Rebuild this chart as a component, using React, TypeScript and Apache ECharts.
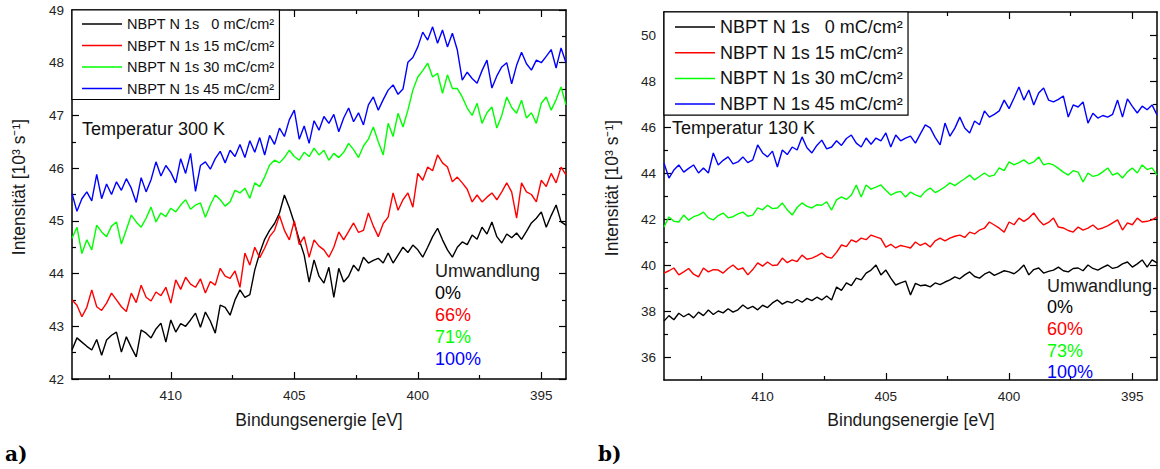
import React, { useEffect, useRef } from "react";
import * as echarts from "echarts";

// ---------- data ----------
const ENERGY_START = 414; // eV, first sample
const ENERGY_STEP = 0.2; // eV between samples (decreasing binding energy)
const energies: number[] = Array.from({ length: 101 }, (_, i) => Math.round((ENERGY_START - ENERGY_STEP * i) * 10) / 10);

const seriesNames = [
  "NBPT N 1s\u00A0\u00A0\u00A00 mC/cm²",
  "NBPT N 1s 15 mC/cm²",
  "NBPT N 1s 30 mC/cm²",
  "NBPT N 1s 45 mC/cm²",
];
const seriesColors = ["#000000", "#ff0000", "#00ff00", "#0000ff"];

// Panel a) 300 K
const t300_0 = [
  42.55, 42.78, 42.70, 42.62, 42.55, 42.75, 42.45, 42.74, 42.83, 42.89,
  42.51, 42.80, 42.60, 42.42, 42.93, 42.87, 42.78, 42.95, 43.06, 42.70,
  43.12, 42.89, 43.05, 43.00, 43.12, 43.25, 42.98, 43.27, 43.10, 42.87,
  43.40, 43.36, 43.21, 43.50, 43.69, 43.55, 43.60, 44.07, 44.39, 44.65,
  44.82, 44.95, 45.15, 45.49, 45.25, 44.96, 44.64, 44.35, 43.84, 44.26,
  43.95, 43.82, 44.12, 43.55, 44.10, 43.84, 43.95, 44.16, 44.05, 44.31,
  44.20, 44.25, 44.29, 44.20, 44.39, 44.20, 44.35, 44.50, 44.40, 44.54,
  44.45, 44.31, 44.50, 44.70, 44.86, 44.64, 44.45, 44.31, 44.50, 44.60,
  44.55, 44.73, 44.65, 44.88, 44.75, 44.98, 44.70, 44.58, 44.75, 44.68,
  44.77, 44.65, 44.80, 44.96, 45.05, 45.17, 44.88, 45.10, 45.30, 44.98,
  44.92,
];
const t300_15 = [
  43.50, 43.40, 43.18, 43.36, 43.69, 43.37, 43.30, 43.44, 43.63, 43.50,
  43.37, 43.28, 43.63, 43.45, 43.78, 43.55, 43.48, 43.65, 43.58, 43.74,
  43.44, 43.88, 43.70, 43.93, 43.80, 43.74, 43.90, 43.63, 43.85, 43.78,
  44.10, 43.95, 43.91, 44.05, 43.74, 44.39, 44.16, 44.50, 44.30, 44.48,
  44.70, 44.82, 45.10, 44.82, 44.64, 45.00, 44.55, 44.70, 44.31, 44.64,
  44.52, 44.45, 44.31, 44.50, 44.79, 44.64, 44.80, 44.96, 44.78, 44.82,
  45.15, 44.90, 44.70, 44.95, 45.07, 45.53, 45.20, 45.40, 45.53, 45.26,
  45.90, 45.77, 46.02, 45.95, 46.25, 46.10, 46.02, 45.74, 45.83, 45.72,
  45.60, 45.36, 45.49, 45.36, 45.45, 45.53, 45.40, 45.55, 45.72, 45.55,
  45.05, 45.72, 45.55, 45.50, 45.36, 45.77, 45.65, 45.90, 45.72, 46.02,
  45.87,
];
const t300_30 = [
  44.67, 44.88, 44.38, 44.64, 44.45, 44.92, 44.79, 44.70, 44.90, 44.98,
  44.56, 44.83, 45.11, 44.98, 44.88, 45.05, 45.26, 44.98, 45.15, 45.08,
  45.24, 45.17, 45.30, 45.40, 45.22, 45.30, 45.34, 45.07, 45.30, 45.49,
  45.40, 45.28, 45.36, 45.58, 45.53, 45.62, 45.43, 45.72, 45.65, 45.83,
  46.06, 46.15, 46.10, 46.20, 46.34, 46.22, 46.15, 46.30, 46.22, 46.38,
  46.25, 46.34, 46.15, 46.28, 46.20, 46.30, 46.47, 46.35, 46.20, 46.42,
  46.55, 46.78, 46.50, 46.25, 46.85, 46.60, 47.04, 46.78, 47.10, 47.48,
  47.73, 47.85, 47.99, 47.73, 47.80, 47.42, 47.77, 47.51, 47.51, 47.35,
  47.14, 47.00, 47.23, 46.85, 47.05, 47.16, 46.76, 47.00, 47.35, 47.15,
  47.04, 47.29, 46.95, 47.05, 46.85, 47.23, 47.35, 47.10, 47.30, 47.54,
  47.20,
];
const t300_45 = [
  45.52, 45.18, 45.42, 45.55, 45.38, 45.88, 45.42, 45.70, 45.50, 45.74,
  45.58, 45.80, 45.62, 45.35, 45.82, 45.55, 45.78, 46.12, 45.85, 46.05,
  45.92, 45.72, 46.18, 45.90, 46.28, 45.56, 46.05, 46.12, 45.98, 46.18,
  46.32, 46.10, 46.34, 46.22, 46.45, 46.20, 46.52, 46.30, 46.58, 46.25,
  46.62, 46.45, 46.76, 46.60, 46.92, 47.10, 46.55, 46.80, 46.47, 46.90,
  46.72, 46.98, 46.85, 47.02, 46.69, 46.95, 47.14, 46.88, 47.05, 46.82,
  47.20, 47.35, 47.10, 47.30, 47.48, 47.58, 47.40, 47.50, 48.01, 48.10,
  48.30, 48.58, 48.43, 48.68, 48.37, 48.62, 48.30, 48.56, 48.24, 47.67,
  47.82, 47.70, 47.61, 47.85, 48.05, 47.52, 47.75, 47.92, 48.00, 47.60,
  47.95, 48.20, 47.98, 47.86, 48.05, 48.00, 48.12, 48.25, 47.90, 48.28,
  48.00,
];

// Panel b) 130 K
const t130_0 = [
  37.56, 37.80, 37.62, 37.90, 37.75, 37.88, 37.70, 37.95, 37.80, 38.04,
  37.85, 38.00, 37.92, 38.10, 37.95, 38.05, 38.26, 38.10, 38.20, 38.05,
  38.25, 38.15, 38.35, 38.48, 38.30, 38.42, 38.35, 38.50, 38.38, 38.55,
  38.45, 38.60, 38.48, 38.65, 38.48, 39.04, 38.90, 39.22, 39.10, 39.43,
  39.35, 39.65, 39.78, 40.00, 39.57, 39.78, 39.43, 39.13, 39.22, 39.30,
  38.70, 39.20, 39.10, 39.13, 39.05, 39.22, 39.15, 39.26, 39.35, 39.48,
  39.40, 39.57, 39.70, 39.50, 39.43, 39.60, 39.70, 39.55, 39.65, 39.75,
  39.70, 39.62, 39.78, 40.00, 39.57, 39.80, 39.87, 39.65, 39.72, 39.78,
  39.91, 39.75, 39.70, 39.85, 39.87, 39.75, 40.00, 39.85, 39.78, 39.90,
  40.00, 39.85, 39.91, 40.05, 40.13, 39.91, 40.05, 40.22, 39.91, 40.22,
  40.09,
];
const t130_15 = [
  39.65, 39.75, 39.87, 39.57, 39.70, 39.85, 39.60, 39.48, 39.87, 39.70,
  39.80, 39.78, 39.65, 39.85, 40.00, 39.80, 39.87, 39.57, 39.80, 40.09,
  39.95, 40.13, 39.98, 40.00, 40.30, 40.10, 40.22, 40.15, 40.43, 40.25,
  40.30, 40.40, 40.52, 40.35, 40.30, 40.55, 40.87, 40.80, 41.09, 41.00,
  41.17, 41.10, 41.30, 41.22, 41.15, 40.78, 40.90, 40.74, 40.85, 40.80,
  40.74, 41.00, 40.85, 40.95, 40.78, 41.05, 41.17, 41.05, 41.17, 41.25,
  41.30, 41.20, 41.43, 41.35, 41.52, 41.60, 41.87, 41.74, 41.60, 41.43,
  41.87, 41.75, 42.04, 41.90, 42.04, 42.26, 41.96, 41.74, 41.85, 42.04,
  41.65, 41.61, 41.50, 41.43, 41.65, 41.52, 41.60, 41.74, 41.55, 41.61,
  41.70, 41.83, 41.96, 41.52, 41.83, 41.75, 42.04, 41.87, 41.90, 41.96,
  42.09,
];
const t130_30 = [
  41.65, 42.09, 41.90, 41.87, 42.17, 41.95, 42.10, 42.17, 42.30, 42.05,
  41.96, 42.15, 42.26, 42.05, 42.10, 42.22, 42.30, 42.12, 42.17, 42.48,
  42.40, 42.60, 42.45, 42.48, 42.70, 42.40, 42.17, 42.50, 42.70, 42.55,
  42.48, 42.62, 42.60, 42.75, 42.39, 42.83, 42.96, 42.85, 43.04, 43.48,
  42.96, 43.48, 43.30, 43.39, 43.48, 43.25, 43.04, 43.15, 43.20, 42.96,
  43.17, 43.05, 42.96, 43.20, 43.35, 43.15, 43.26, 43.40, 43.57, 43.45,
  43.61, 43.75, 43.91, 43.70, 43.85, 44.00, 43.85, 43.91, 44.22, 44.10,
  44.48, 44.35, 44.45, 44.57, 44.40, 44.48, 44.70, 44.35, 44.42, 44.35,
  44.20, 44.04, 43.91, 44.10, 44.04, 43.61, 44.00, 43.85, 43.91, 44.05,
  44.22, 43.91, 44.00, 43.78, 44.05, 44.22, 44.00, 44.35, 44.15, 44.22,
  43.91,
];
const t130_45 = [
  44.43, 43.78, 44.13, 44.35, 44.04, 44.20, 44.35, 44.00, 44.22, 44.00,
  44.87, 44.35, 44.55, 44.70, 44.40, 44.48, 44.70, 44.45, 44.57, 45.22,
  44.87, 44.70, 44.95, 44.26, 45.00, 44.80, 45.13, 45.00, 45.57, 45.10,
  44.87, 45.20, 45.43, 45.05, 45.13, 45.40, 45.20, 45.50, 45.65, 45.30,
  45.13, 45.52, 45.25, 45.52, 45.40, 45.74, 45.13, 45.65, 45.40, 45.52,
  45.60, 45.30, 45.70, 46.09, 45.96, 45.55, 45.22, 46.17, 45.60, 45.95,
  46.43, 45.96, 45.74, 46.26, 46.10, 46.70, 46.43, 46.55, 46.70, 47.17,
  46.80, 47.26, 47.74, 47.17, 47.61, 46.96, 47.48, 47.70, 47.17, 47.09,
  47.20, 47.35, 46.43, 46.96, 46.87, 47.09, 46.17, 46.60, 46.39, 46.50,
  46.43, 46.55, 47.17, 46.43, 47.22, 46.90, 46.61, 46.91, 46.75, 46.96,
  46.52,
];

const panelA = [t300_0, t300_15, t300_30, t300_45];
const panelB = [t130_0, t130_15, t130_30, t130_45];

const xMajorTicks = [395, 400, 405, 410];
const xMinorTicks = [397.5, 402.5, 407.5, 412.5];
const yMajorTicksB = [36, 38, 40, 42, 44, 46, 48, 50];
const yMinorTicksB = [37, 39, 41, 43, 45, 47, 49];

const conversionA = ["0%", "66%", "71%", "100%"];
const conversionB = ["0%", "60%", "73%", "100%"];
const conversionColors = ["#000000", "#ff0000", "#00ff00", "#0000ff"];

// ---------- styling ----------
const FONT = "'Liberation Sans', Arial, Helvetica, sans-serif";
const AX = { color: "#000", width: 1.5 };
const TK = { color: "#000", width: 1.2 };

function xAxesFor(gridIndex: number) {
  const base = { type: "value", gridIndex, min: 394, max: 414, inverse: true, splitLine: { show: false } };
  const line = { show: true, onZero: false, lineStyle: AX };
  return [
    {
      ...base, position: "bottom", axisLine: line,
      axisTick: { show: true, inside: true, length: 7, customValues: xMajorTicks, lineStyle: TK },
      axisLabel: { show: true, customValues: xMajorTicks, margin: 9, fontSize: 13.5, color: "#222", fontFamily: FONT },
    },
    {
      ...base, position: "bottom", axisLine: { show: false },
      axisTick: { show: true, inside: true, length: 4, customValues: xMinorTicks, lineStyle: TK },
      axisLabel: { show: false },
    },
    {
      ...base, position: "top", axisLine: line,
      axisTick: { show: true, inside: true, length: 7, customValues: xMajorTicks, lineStyle: TK },
      axisLabel: { show: false },
    },
    {
      ...base, position: "top", axisLine: { show: false },
      axisTick: { show: true, inside: true, length: 4, customValues: xMinorTicks, lineStyle: TK },
      axisLabel: { show: false },
    },
  ];
}

const yLabel = { margin: 8, fontSize: 13.5, color: "#222", fontFamily: FONT };

const yAxesA = [
  {
    type: "value", gridIndex: 0, position: "left", min: 42, max: 49, interval: 1,
    axisLine: { show: true, onZero: false, lineStyle: AX },
    axisTick: { show: true, inside: true, length: 7, lineStyle: TK },
    minorTick: { show: true, splitNumber: 2, length: 4, lineStyle: TK },
    axisLabel: { show: true, ...yLabel },
    splitLine: { show: false },
  },
  {
    type: "value", gridIndex: 0, position: "right", min: 42, max: 49, interval: 1,
    axisLine: { show: true, onZero: false, lineStyle: AX },
    axisTick: { show: true, inside: true, length: 7, lineStyle: TK },
    minorTick: { show: true, splitNumber: 2, length: 4, lineStyle: TK },
    axisLabel: { show: false },
    splitLine: { show: false },
  },
];

function yAxesB() {
  const base = { type: "value", gridIndex: 1, min: 35, max: 51, splitLine: { show: false } };
  return [
    {
      ...base, position: "left", axisLine: { show: true, onZero: false, lineStyle: AX },
      axisTick: { show: true, inside: true, length: 7, customValues: yMajorTicksB, lineStyle: TK },
      axisLabel: { show: true, customValues: yMajorTicksB, ...yLabel },
    },
    {
      ...base, position: "left", axisLine: { show: false },
      axisTick: { show: true, inside: true, length: 4, customValues: yMinorTicksB, lineStyle: TK },
      axisLabel: { show: false },
    },
    {
      ...base, position: "right", axisLine: { show: true, onZero: false, lineStyle: AX },
      axisTick: { show: true, inside: true, length: 7, customValues: yMajorTicksB, lineStyle: TK },
      axisLabel: { show: false },
    },
    {
      ...base, position: "right", axisLine: { show: false },
      axisTick: { show: true, inside: true, length: 4, customValues: yMinorTicksB, lineStyle: TK },
      axisLabel: { show: false },
    },
  ];
}

function makeSeries(panel: number[][], xAxisIndex: number, yAxisIndex: number) {
  return panel.map((vals, k) => ({
    type: "line",
    name: seriesNames[k],
    xAxisIndex,
    yAxisIndex,
    data: vals.map((v, i) => [energies[i], v]),
    showSymbol: false,
    symbol: "none",
    color: seriesColors[k],
    lineStyle: { color: seriesColors[k], width: 1.4 },
    clip: true,
    z: 2 + k,
  }));
}

function label(text: string, x: number, y: number, size: number, color = "#111", extra: any = {}) {
  return {
    type: "text", x, y, z: 100, ...extra,
    style: { text, fill: color, font: `${size}px ${FONT}`, textAlign: "left", textVerticalAlign: "middle", ...(extra.style || {}) },
  };
}

function conversionBlock(x: number, y0: number, dy: number, values: string[]) {
  const items: any[] = [label("Umwandlung", x, y0, 18, "#1a1a1a")];
  values.forEach((v, i) => items.push(label(v, x, y0 + dy * (i + 1), 18, conversionColors[i])));
  return items;
}

function rotatedName(text: string, x: number, y: number) {
  return {
    type: "text", x, y, z: 100, rotation: Math.PI / 2,
    style: { text, fill: "#1a1a1a", font: `17.5px ${FONT}`, textAlign: "center", textVerticalAlign: "middle" },
  };
}

function centeredName(text: string, x: number, y: number) {
  return {
    type: "text", x, y, z: 100,
    style: { text, fill: "#1a1a1a", font: `17.5px ${FONT}`, textAlign: "center", textVerticalAlign: "middle" },
  };
}

export default function App() {
  const ref = useRef<HTMLDivElement>(null);
  useEffect(() => {
    if (!ref.current) return;
    const chart = echarts.init(ref.current, undefined, { renderer: "svg" });
    const option: any = {
      animation: false,
      backgroundColor: "#ffffff",
      grid: [
        { left: 72, top: 10, width: 494, height: 369, containLabel: false },
        { left: 664, top: 12, width: 493, height: 368, containLabel: false },
      ],
      xAxis: [...xAxesFor(0), ...xAxesFor(1)],
      yAxis: [...yAxesA, ...yAxesB()],
      legend: [
        {
          data: seriesNames, left: 72, top: 10, orient: "vertical", icon: "rect",
          itemWidth: 40, itemHeight: 1.5, itemGap: 5.5, padding: [6, 5, 3, 10],
          borderColor: "#000", borderWidth: 1.2, backgroundColor: "#fff", selectedMode: false,
          textStyle: { fontSize: 14.5, lineHeight: 16, color: "#111", fontFamily: FONT },
        },
        {
          data: seriesNames, left: 664, top: 12, orient: "vertical", icon: "rect",
          itemWidth: 40, itemHeight: 1.5, itemGap: 5.7, padding: [5, 5, 1, 11],
          borderColor: "#000", borderWidth: 1.2, backgroundColor: "#fff", selectedMode: false,
          textStyle: { fontSize: 18, lineHeight: 20, color: "#111", fontFamily: FONT },
        },
      ],
      series: [...makeSeries(panelA, 0, 0), ...makeSeries(panelB, 4, 2)],
      graphic: [
        label("Temperatur 300 K", 82, 129, 18),
        label("Temperatur 130 K", 672, 128, 18),
        ...conversionBlock(435, 271, 22, conversionA),
        ...conversionBlock(1047, 285.5, 21.7, conversionB),
        rotatedName("Intensität [10³ s⁻¹]", 19, 187),
        rotatedName("Intensität [10³ s⁻¹]", 612, 188),
        centeredName("Bindungsenergie [eV]", 319, 420),
        centeredName("Bindungsenergie [eV]", 911, 420),
        { type: "text", x: 5, y: 454, z: 100, style: { text: "a)", fill: "#000", font: `bold 20px 'DejaVu Serif', 'Liberation Serif', serif`, textAlign: "left", textVerticalAlign: "middle" } },
        { type: "text", x: 598, y: 454, z: 100, style: { text: "b)", fill: "#000", font: `bold 20px 'DejaVu Serif', 'Liberation Serif', serif`, textAlign: "left", textVerticalAlign: "middle" } },
      ],
    };
    chart.setOption(option);
    return () => chart.dispose();
  }, []);
  return <div ref={ref} style={{ position: "absolute", left: 0, top: 0, width: 1160, height: 469 }} />;
}
